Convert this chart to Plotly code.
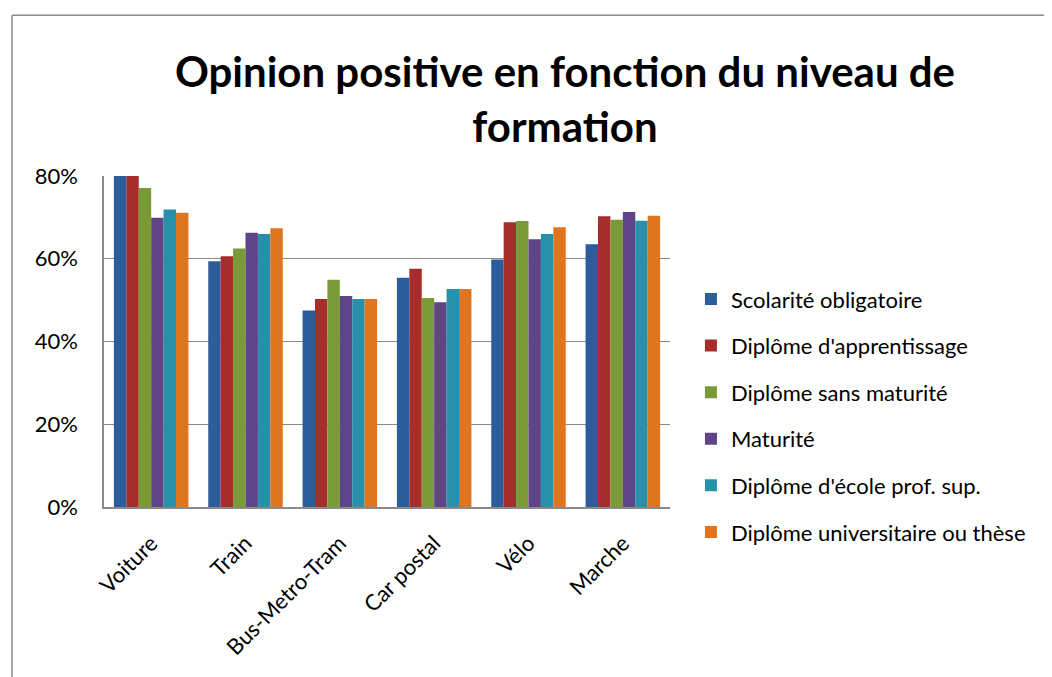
import plotly.graph_objects as go

categories = ["Voiture", "Train", "Bus-Metro-Tram", "Car postal", "Vélo", "Marche"]

scolarite_obligatoire = [0.800, 0.594, 0.475, 0.554, 0.598, 0.635]
diplome_apprentissage = [0.800, 0.606, 0.503, 0.576, 0.688, 0.703]
diplome_sans_maturite = [0.771, 0.625, 0.549, 0.505, 0.691, 0.694]
maturite = [0.699, 0.663, 0.510, 0.495, 0.647, 0.713]
diplome_ecole_prof_sup = [0.719, 0.660, 0.503, 0.527, 0.660, 0.692]
diplome_universitaire = [0.711, 0.674, 0.503, 0.527, 0.676, 0.704]

series = [
    ("Scolarité obligatoire", scolarite_obligatoire, "#2d5c9a"),
    ("Diplôme d'apprentissage", diplome_apprentissage, "#a52d2c"),
    ("Diplôme sans maturité", diplome_sans_maturite, "#7a9a37"),
    ("Maturité", maturite, "#5e4587"),
    ("Diplôme d'école prof. sup.", diplome_ecole_prof_sup, "#2990aa"),
    ("Diplôme universitaire ou thèse", diplome_universitaire, "#df751f"),
]

FONT = "Lato, Calibri, Carlito, sans-serif"

# the page body has an 8px margin, so the figure is 8px smaller than the window
fig = go.Figure()
for i, (name, values, color) in enumerate(series):
    fig.add_trace(
        go.Bar(
            x=categories,
            y=values,
            name=name,
            legendgroup=f"g{i}",
            marker=dict(color=color, line=dict(width=0)),
        )
    )

fig.update_layout(
    width=1044,
    height=669,
    margin=dict(l=96, r=382, t=168, b=170),
    paper_bgcolor="#ffffff",
    plot_bgcolor="#ffffff",
    barmode="group",
    bargap=0.21,
    bargroupgap=0,
    font=dict(family=FONT, color="#000000", size=22),
    title=dict(
        text="<b>Opinion positive en fonction du niveau de<br>formation</b>",
        x=0.5335,
        xanchor="center",
        y=0.882,
        yanchor="top",
        font=dict(family=FONT, size=42, color="#000000"),
    ),
    legend=dict(
        x=1.037,
        xanchor="left",
        y=0.276,
        yanchor="middle",
        font=dict(family=FONT, size=22, color="#000000"),
        tracegroupgap=15,
        bgcolor="rgba(0,0,0,0)",
    ),
    shapes=[
        dict(type="line", xref="paper", yref="paper", x0=-0.1625, x1=-0.1625, y0=1.486, y1=-1,
             line=dict(color="#8a8a8a", width=1.5)),
        dict(type="line", xref="paper", yref="paper", x0=-0.1625, x1=2, y0=1.486, y1=1.486,
             line=dict(color="#8a8a8a", width=1.5)),
    ],
)

fig.update_xaxes(
    tickangle=-45,
    tickfont=dict(family=FONT, size=22, color="#000000"),
    showline=True,
    linecolor="#8a8a8a",
    linewidth=1.5,
    showgrid=False,
    ticks="",
    ticklabelstandoff=13,
)
fig.update_yaxes(
    range=[0, 0.8],
    dtick=0.2,
    tickformat=".0%",
    tickfont=dict(family=FONT, size=22, color="#000000"),
    showline=True,
    linecolor="#8a8a8a",
    linewidth=1.5,
    showgrid=True,
    gridcolor="#8a8a8a",
    gridwidth=1,
    zeroline=False,
    ticks="",
    ticklabelstandoff=20,
)

fig.write_html("out.html")
